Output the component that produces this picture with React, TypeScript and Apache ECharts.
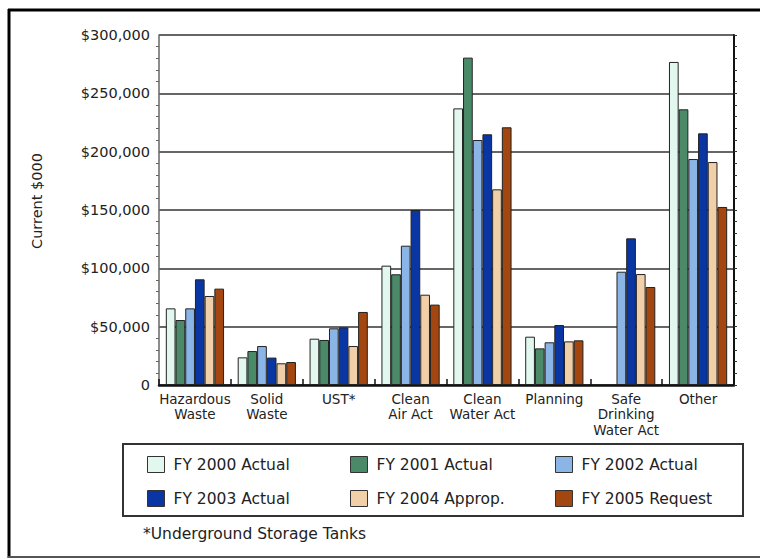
import React, { useEffect, useRef } from "react";
import * as echarts from "echarts";

const categories = [
  "Hazardous\nWaste",
  "Solid\nWaste",
  "UST*",
  "Clean\nAir Act",
  "Clean\nWater Act",
  "Planning",
  "Safe\nDrinking\nWater Act",
  "Other",
];

const seriesNames = [
  "FY 2000 Actual",
  "FY 2001 Actual",
  "FY 2002 Actual",
  "FY 2003 Actual",
  "FY 2004 Approp.",
  "FY 2005 Request",
];

const fy2000 = [65700, 23700, 39700, 102300, 237100, 41400, null, 276900];
const fy2001 = [55700, 29100, 38600, 94900, 280600, 31400, null, 236300];
const fy2002 = [65700, 33400, 48600, 119400, 210000, 36600, 97100, 193700];
const fy2003 = [90600, 23500, 49400, 150000, 214900, 51400, 125700, 215700];
const fy2004 = [76300, 18600, 33400, 77400, 167700, 37400, 95100, 191100];
const fy2005 = [82600, 19700, 62600, 68900, 220900, 38300, 84000, 152600];

const yTicks = ["0", "$50,000", "$100,000", "$150,000", "$200,000", "$250,000", "$300,000"];

const colors = ["#e2f8ef", "#4b8a69", "#8ab5e6", "#0a36a3", "#f1d0a9", "#a4460f"];

const FONT = "'DejaVu Sans', Verdana, sans-serif";

export default function App() {
  const ref = useRef<HTMLDivElement>(null);

  useEffect(() => {
    if (!ref.current) return;
    const chart = echarts.init(ref.current, null, { renderer: "svg" });
    const data = [fy2000, fy2001, fy2002, fy2003, fy2004, fy2005];

    const legendPos = [
      { left: 147, top: 456 },
      { left: 350, top: 456 },
      { left: 555, top: 456 },
      { left: 147, top: 490 },
      { left: 350, top: 490 },
      { left: 555, top: 490 },
    ];

    chart.setOption({
      animation: false,
      backgroundColor: "#ffffff",
      textStyle: { fontFamily: FONT },
      grid: { left: 159, top: 35, right: 26, bottom: 173, containLabel: false },
      legend: seriesNames.map((n, i) => ({
        data: [n],
        left: legendPos[i].left,
        top: legendPos[i].top,
        padding: 0,
        icon: "rect",
        itemWidth: 17,
        itemHeight: 16,
        selectedMode: false,
        textStyle: { fontFamily: FONT, fontSize: 15.5, color: "#222", padding: [0, 0, 0, 4] },
        itemStyle: { borderColor: "#333", borderWidth: 1 },
      })),
      xAxis: {
        type: "category",
        data: categories,
        boundaryGap: true,
        axisLine: { lineStyle: { color: "#111", width: 2.5 } },
        axisTick: { show: true, inside: true, length: 6, lineStyle: { color: "#111", width: 1.5 } },
        axisLabel: {
          interval: 0,
          fontFamily: FONT,
          fontSize: 13.5,
          color: "#222",
          lineHeight: 15.5,
          margin: 6,
        },
      },
      yAxis: [
        {
          type: "value",
          min: 0,
          max: 300000,
          interval: 50000,
          axisLine: { show: true, lineStyle: { color: "#666", width: 1.5 } },
          axisTick: { show: false },
          minorTick: { show: true, splitNumber: 5, length: 3, lineStyle: { color: "#666" } },
          axisLabel: {
            fontFamily: FONT,
            fontSize: 14.5,
            color: "#222",
            margin: 9,
            formatter: (v: number) => yTicks[Math.round(v / 50000)],
          },
          splitLine: { show: true, lineStyle: { color: "#333", width: 1.5 } },
        },
        {
          type: "value",
          position: "right",
          min: 0,
          max: 300000,
          interval: 50000,
          axisLine: { show: true, lineStyle: { color: "#111", width: 2 } },
          axisTick: { show: true, length: 3, lineStyle: { color: "#333" } },
          minorTick: { show: true, splitNumber: 5, length: 3, lineStyle: { color: "#333" } },
          axisLabel: { show: false },
          splitLine: { show: false },
        },
      ],
      series: seriesNames.map((n, i) => ({
        name: n,
        type: "bar",
        data: data[i],
        barGap: "0%",
        barCategoryGap: "19%",
        itemStyle: { color: colors[i], borderColor: "#222", borderWidth: 1 },
      })),
      graphic: [
        { type: "line", shape: { x1: 8, y1: 10, x2: 760, y2: 10 }, style: { stroke: "#000", lineWidth: 3 } },
        { type: "line", shape: { x1: 9, y1: 9, x2: 9, y2: 558 }, style: { stroke: "#000", lineWidth: 3 } },
        { type: "line", shape: { x1: 8, y1: 557, x2: 760, y2: 557 }, style: { stroke: "#555", lineWidth: 2 } },
        {
          type: "text",
          x: 37,
          y: 201,
          rotation: Math.PI / 2,
          style: {
            text: "Current $000",
            fontFamily: FONT,
            fontSize: 14.5,
            fill: "#222",
            textAlign: "center",
            textVerticalAlign: "middle",
          },
        },
        {
          type: "rect",
          shape: { x: 123, y: 444, width: 620, height: 72 },
          style: { fill: "none", stroke: "#333", lineWidth: 2 },
        },
        {
          type: "text",
          x: 143,
          y: 534,
          style: {
            text: "*Underground Storage Tanks",
            fontFamily: FONT,
            fontSize: 15.5,
            fill: "#222",
            textVerticalAlign: "middle",
          },
        },
      ],
    });
    return () => chart.dispose();
  }, []);

  return (
    <div
      ref={ref}
      style={{ position: "fixed", left: 0, top: 0, width: 760, height: 558, background: "#fff" }}
    />
  );
}
